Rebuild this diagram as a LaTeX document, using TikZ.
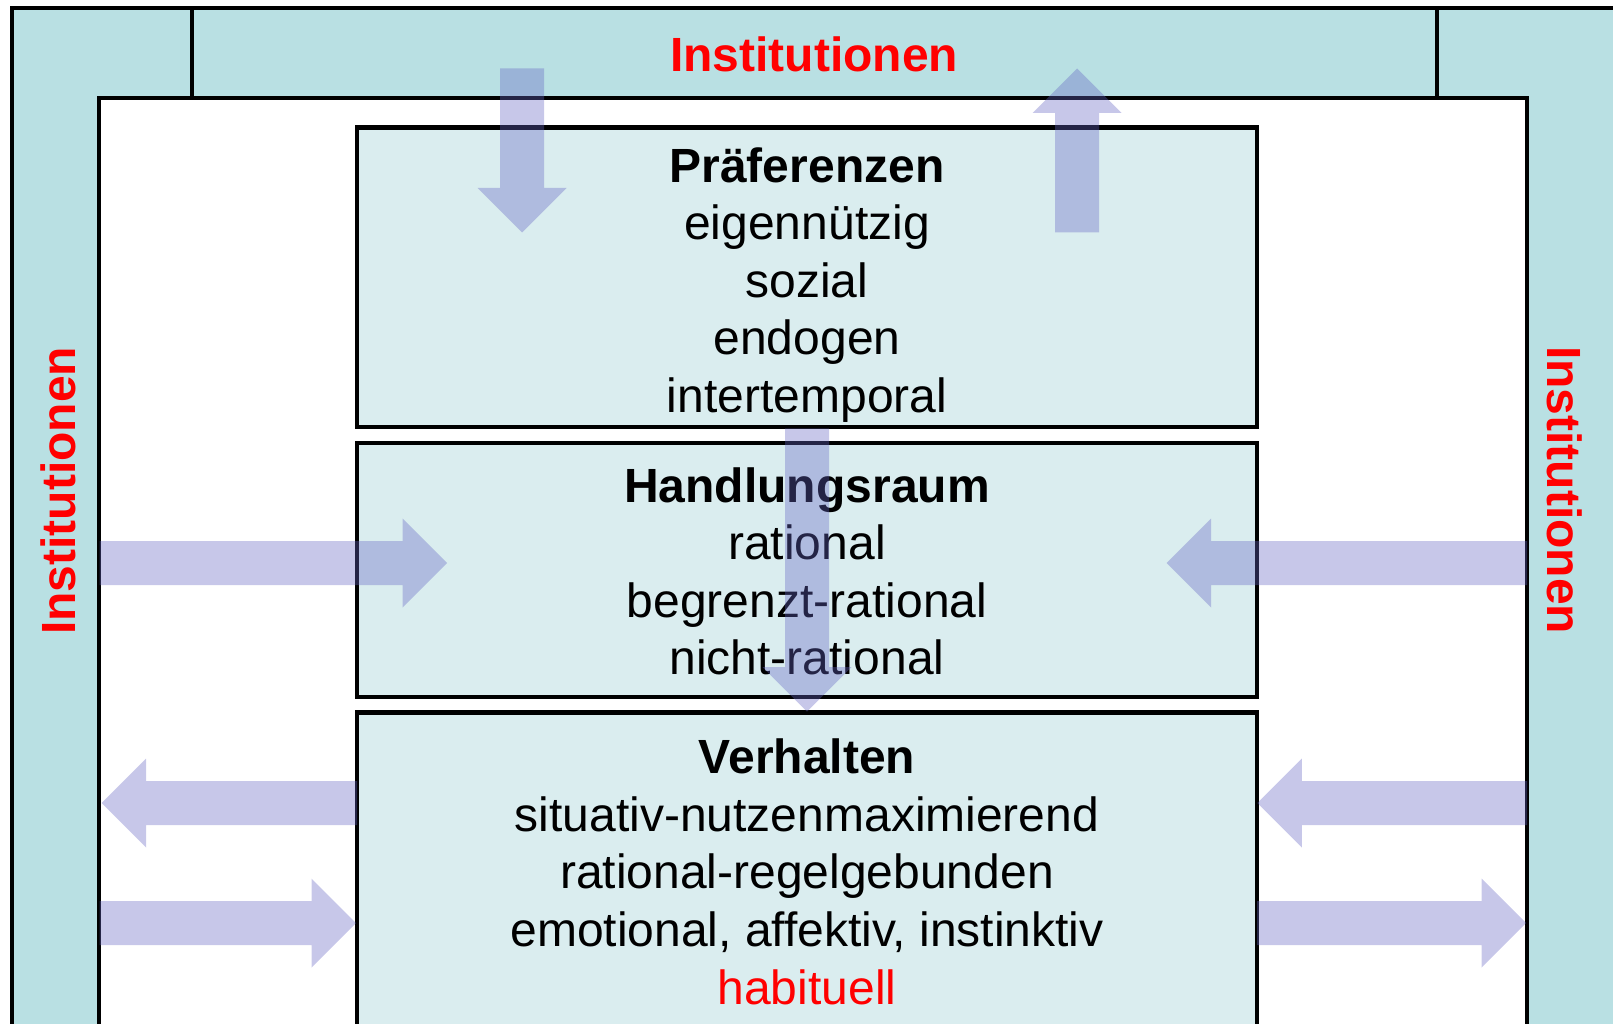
\documentclass[tikz,border=0pt]{standalone}
\usepackage{fontspec}
\setmainfont{Liberation Sans}
\usetikzlibrary{calc}
\definecolor{bandcol}{RGB}{185,224,227}
\definecolor{boxcol}{RGB}{218,237,239}
\definecolor{arrowcol}{RGB}{100,100,195}
\definecolor{instred}{RGB}{255,0,0}
\tikzset{
  frameline/.style={line width=4.5pt, line join=miter, line cap=rect},
  infobox/.style={draw, line width=4.5pt, fill=boxcol, inner sep=0pt, outer sep=0pt, rectangle, minimum width=900pt},
  boxtext/.style={font=\fontsize{48}{57.6}\selectfont, align=center, anchor=base, inner sep=0pt},
  insttext/.style={font=\fontsize{48}{57.6}\selectfont\bfseries, text=instred, inner sep=0pt},
  arrowfill/.style={fill=arrowcol, fill opacity=0.36},
}
\newcommand\blockarrow[2]{%
  \coordinate (hb) at ($(#2)!44.5pt!(#1)$);
  \fill[arrowfill] ($(#1)!22pt!90:(#2)$) -- ($(hb)!22pt!90:(#2)$) -- ($(hb)!44.5pt!90:(#2)$) -- (#2)
     -- ($(hb)!44.5pt!-90:(#2)$) -- ($(hb)!22pt!-90:(#2)$) -- ($(#1)!22pt!-90:(#2)$) -- cycle;}
\begin{document}
\begin{tikzpicture}[x=1pt,y=-1pt]
\useasboundingbox (0,0) rectangle (1613,1024);
\clip (0,0) rectangle (1613,1024);
% frame bands
\fill[bandcol] (12,8) -- (1630,8) -- (1630,1040) -- (1527,1040) -- (1527,98) -- (99,98) -- (99,1040) -- (12,1040) -- cycle;
\draw[frameline] (12,1040) -- (12,8) -- (1630,8);
\draw[frameline] (99,1040) -- (99,98) -- (1527,98) -- (1527,1040);
\draw[frameline] (192,8) -- (192,98);
\draw[frameline] (1437,8) -- (1437,98);
% band labels
\node[insttext, anchor=base] (insttop) at (814,72) {Institutionen};
\node[insttext, rotate=90] (instleft) at (58,491) {Institutionen};
\node[insttext, rotate=-90] (instright) at (1565,490) {Institutionen};
% boxes
\node[infobox, minimum height=299.3pt] (pref) at (807,277.35) {};
\node[infobox, minimum height=254pt] (hand) at (807,569.85) {};
\node[infobox, minimum height=327.5pt] (verh) at (807,876.25) {};
% box texts (anchor base = baseline of the last line)
\node[boxtext] (preftext) at (807,412.4) {\textbf{Präferenzen}\\eigennützig\\sozial\\endogen\\intertemporal};
\node[boxtext] (handtext) at (807,674.8) {\textbf{Handlungsraum}\\rational\\begrenzt-rational\\nicht-rational};
\node[boxtext] (verhtext) at (807,1004) {\textbf{Verhalten}\\situativ-nutzenmaximierend\\rational-regelgebunden\\emotional, affektiv, instinktiv\\\textcolor{instred}{habituell}};
% arrow end points
\coordinate (a1s) at (522,68.5);   \coordinate (a1e) at (522,232.5);
\coordinate (a2s) at (1077,232.5); \coordinate (a2e) at (1077,68.5);
\coordinate (a3s) at (807,428.3);  \coordinate (a3e) at (807,711.7);
\coordinate (a4s) at (99.5,563);   \coordinate (a4e) at (447,563);
\coordinate (a5s) at (1527,563);   \coordinate (a5e) at (1166.7,563);
\coordinate (a6s) at (357,803);    \coordinate (a6e) at (101.7,803);
\coordinate (a7s) at (99.5,923);   \coordinate (a7e) at (356,923);
\coordinate (a8s) at (1527,803);   \coordinate (a8e) at (1257.3,803);
\coordinate (a9s) at (1257,923);   \coordinate (a9e) at (1526,923);
\blockarrow{a1s}{a1e}
\blockarrow{a2s}{a2e}
\blockarrow{a3s}{a3e}
\blockarrow{a4s}{a4e}
\blockarrow{a5s}{a5e}
\blockarrow{a6s}{a6e}
\blockarrow{a7s}{a7e}
\blockarrow{a8s}{a8e}
\blockarrow{a9s}{a9e}
\end{tikzpicture}
\end{document}
